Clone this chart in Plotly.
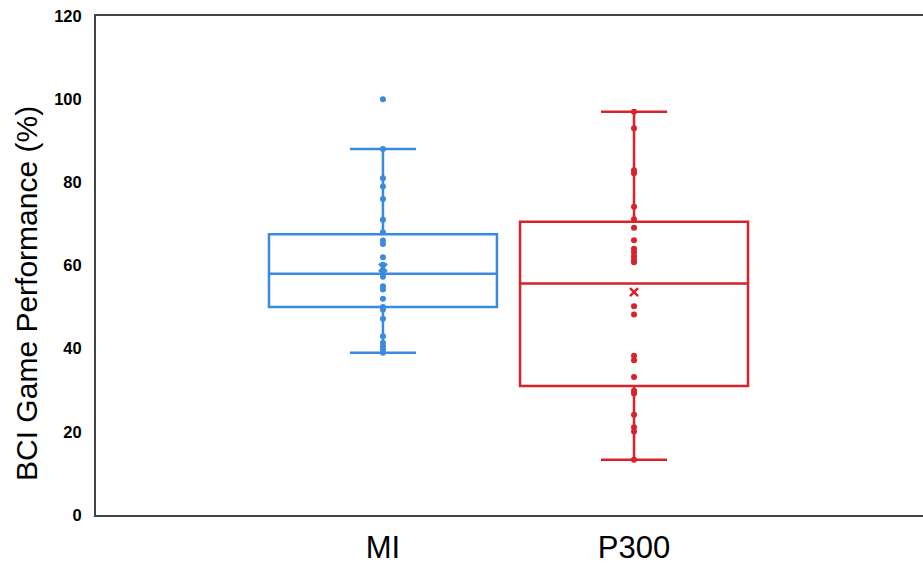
import plotly.graph_objects as go

categories = ["MI", "P300"]
colors = ["#3a8ae0", "#d8232a"]

# box statistics
q1 = [50.0, 31.0]
median = [58.0, 55.7]
q3 = [67.5, 70.5]
lower_fence = [39.0, 13.3]
upper_fence = [88.0, 97.0]
means = [59.5, 53.6]

# individual data points
mi_points = [100, 88, 81, 79, 76, 71, 68, 66, 65.2, 62, 60.2, 58.6, 57.3, 55, 54.2, 52,
             50, 49.4, 47.2, 43, 41.4, 40.6, 39.8, 39]
p300_points = [97, 93, 82.9, 82.2, 74.1, 71.1, 69.1, 66.1, 64.0, 63.2, 62.2, 61.4, 60.8,
               50.2, 48.2, 38.3, 37.2, 33.2, 29.9, 29.2, 24.1, 21.1, 20.1, 13.3]
points = [mi_points, p300_points]

y_title = "BCI Game Performance (%)"

fig = go.Figure()
for i, cat in enumerate(categories):
    fig.add_trace(go.Box(
        x=[cat], q1=[q1[i]], median=[median[i]], q3=[q3[i]],
        lowerfence=[lower_fence[i]], upperfence=[upper_fence[i]],
        boxpoints=False, width=0.908, whiskerwidth=0.29,
        line=dict(color=colors[i], width=2.5),
        fillcolor="rgba(0,0,0,0)", showlegend=False, hoverinfo="skip",
    ))
    fig.add_trace(go.Scatter(
        x=[cat] * len(points[i]), y=points[i], mode="markers",
        marker=dict(color=colors[i], size=6), showlegend=False,
    ))
    fig.add_trace(go.Scatter(
        x=[cat], y=[means[i]], mode="markers",
        marker=dict(color=colors[i], size=8, symbol="x-thin",
                    line=dict(color=colors[i], width=2.5)),
        showlegend=False,
    ))

fig.add_annotation(
    text=y_title, xref="paper", yref="paper", x=-0.0834, y=0.443,
    xanchor="center", yanchor="middle", textangle=-90, showarrow=False,
    font=dict(size=30, color="black", family="Liberation Sans, Arial, sans-serif"),
)

fig.update_layout(
    width=923, height=565,
    margin=dict(l=96, r=0, t=16, b=50),
    plot_bgcolor="white", paper_bgcolor="white",
    font=dict(family="Liberation Sans, Arial, sans-serif", color="black"),
    xaxis=dict(
        type="category", categoryorder="array", categoryarray=categories,
        range=[-1.143, 2.151], showline=True, mirror=True,
        linecolor="#444444", linewidth=2, ticks="", showgrid=False,
        zeroline=False, tickfont=dict(size=31, color="black"),
        ticklabelstandoff=4,
    ),
    yaxis=dict(
        range=[0, 120], tickvals=[0, 20, 40, 60, 80, 100, 120],
        showline=True, linecolor="#444444", linewidth=2, ticks="",
        showgrid=False, zeroline=False, ticklabelstandoff=9,
        tickfont=dict(size=16.5, family="Liberation Sans, Arial", color="black", weight="bold"),
    ),
)

fig.write_html("out.html")
